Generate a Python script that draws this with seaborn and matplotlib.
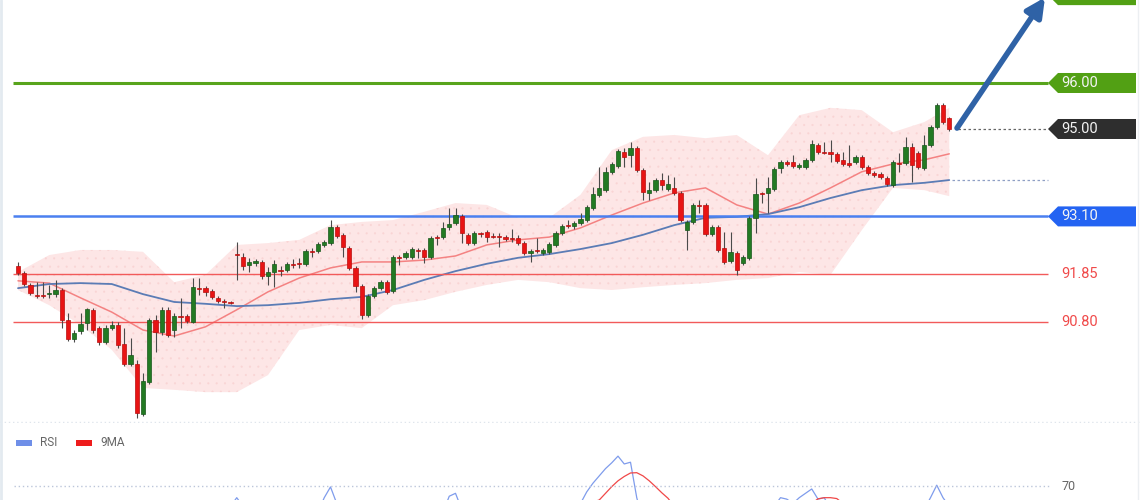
import numpy as np
import pandas as pd
import matplotlib
matplotlib.use("Agg")
import matplotlib.pyplot as plt
import seaborn as sns
from matplotlib.patches import Polygon, Rectangle

# candles (price units)
opens = [92.02, 91.87, 91.61, 91.39, 91.39, 91.41, 91.41, 91.50, 90.85, 90.43,
         90.61, 90.78, 91.07, 90.67, 90.37, 90.67, 90.74, 90.33, 89.89, 89.89,
         88.80, 89.50, 90.85, 90.59, 91.07, 90.63, 90.93, 90.93, 90.80, 91.54,
         91.54, 91.48, 91.33, 91.26, 91.24, 92.28, 92.22, 92.04, 92.09, 92.11,
         91.80, 91.89, 91.93, 91.93, 92.07, 92.09, 92.07, 92.35, 92.35, 92.48,
         92.52, 92.87, 92.70, 92.41, 91.98, 91.59, 90.96, 91.37, 91.54, 91.67,
         91.48, 92.22, 92.22, 92.22, 92.37, 92.37, 92.22, 92.65, 92.65, 92.87,
         92.96, 93.11, 92.70, 92.52, 92.74, 92.76, 92.67, 92.67, 92.65, 92.63,
         92.63, 92.52, 92.30, 92.37, 92.30, 92.33, 92.48, 92.74, 92.91, 92.89,
         92.96, 93.02, 93.28, 93.56, 93.67, 94.07, 94.20, 94.50, 94.43, 94.59,
         94.11, 93.61, 93.67, 93.89, 93.69, 93.72, 93.61, 92.80, 92.98, 93.35,
         93.35, 92.72, 92.87, 92.41, 92.13, 92.30, 92.09, 92.20, 93.07, 93.61,
         93.61, 93.69, 94.15, 94.28, 94.28, 94.17, 94.17, 94.33, 94.65, 94.50,
         94.50, 94.46, 94.33, 94.26, 94.28, 94.39, 94.17, 94.04, 94.02, 93.93,
         93.78, 94.26, 94.26, 94.61, 94.48, 94.15, 94.65, 95.04, 95.52, 95.24]
highs = [92.11, 91.91, 91.65, 91.67, 91.67, 91.61, 91.72, 91.54, 91.00, 90.63,
         91.00, 91.11, 91.11, 90.72, 90.74, 90.83, 90.80, 90.67, 90.46, 89.98,
         89.70, 90.89, 90.96, 91.13, 91.13, 91.00, 91.33, 90.98, 91.76, 91.76,
         91.59, 91.52, 91.37, 91.30, 91.26, 92.54, 92.30, 92.20, 92.17, 92.15,
         92.00, 92.15, 92.02, 92.11, 92.17, 92.20, 92.39, 92.41, 92.54, 92.59,
         93.02, 92.91, 92.74, 92.46, 92.02, 91.63, 91.41, 91.59, 91.72, 91.72,
         92.26, 92.26, 92.35, 92.43, 92.41, 92.41, 92.67, 92.70, 92.98, 93.28,
         93.28, 93.15, 92.74, 92.78, 92.76, 92.80, 92.74, 92.74, 92.70, 92.83,
         92.70, 92.56, 92.39, 92.63, 92.41, 92.54, 92.78, 92.93, 93.02, 93.00,
         93.17, 93.35, 93.74, 94.17, 94.17, 94.28, 94.57, 94.59, 94.72, 94.63,
         94.15, 93.85, 93.93, 94.04, 94.00, 93.96, 93.65, 93.02, 93.39, 93.46,
         93.39, 92.91, 92.91, 92.76, 92.76, 92.35, 92.26, 93.11, 93.93, 93.63,
         93.96, 94.17, 94.33, 94.33, 94.43, 94.26, 94.37, 94.76, 94.70, 94.72,
         94.76, 94.50, 94.50, 94.65, 94.43, 94.43, 94.22, 94.09, 94.07, 93.98,
         94.33, 94.48, 94.83, 94.70, 94.52, 94.87, 95.09, 95.57, 95.57, 95.26]
lows = [91.83, 91.59, 91.39, 91.33, 91.33, 91.33, 91.35, 90.67, 90.39, 90.37,
        90.54, 90.63, 90.57, 90.30, 90.33, 90.63, 90.24, 89.85, 89.85, 88.72,
        88.76, 89.46, 90.15, 90.52, 90.48, 90.48, 90.67, 90.78, 90.78, 91.39,
        91.37, 91.30, 91.22, 91.11, 91.20, 91.72, 91.93, 91.89, 92.02, 91.74,
        91.61, 91.56, 91.80, 91.89, 91.98, 91.98, 92.02, 92.22, 92.30, 92.43,
        92.48, 92.63, 92.22, 91.93, 91.46, 90.87, 90.91, 91.33, 91.50, 91.41,
        91.43, 92.04, 92.17, 92.17, 92.20, 92.09, 92.17, 92.48, 92.61, 92.80,
        92.91, 92.52, 92.48, 92.48, 92.65, 92.54, 92.63, 92.43, 92.56, 92.54,
        92.48, 92.26, 92.11, 92.30, 92.26, 92.28, 92.43, 92.70, 92.85, 92.83,
        92.91, 92.98, 93.24, 93.52, 93.63, 94.02, 94.15, 94.17, 94.17, 94.07,
        93.46, 93.46, 93.63, 93.67, 93.65, 93.56, 92.98, 92.37, 92.93, 93.17,
        92.67, 92.67, 92.33, 92.07, 92.09, 91.83, 92.04, 92.15, 92.74, 93.39,
        93.17, 93.65, 94.04, 94.20, 94.15, 94.13, 94.13, 94.28, 94.46, 94.46,
        94.28, 94.26, 94.20, 94.17, 94.24, 94.13, 94.00, 93.96, 93.91, 93.76,
        93.74, 94.07, 94.22, 93.85, 94.13, 94.11, 94.61, 95.00, 95.11, 94.96]
closes = [91.87, 91.63, 91.43, 91.37, 91.37, 91.43, 91.50, 90.85, 90.43, 90.57,
          90.76, 91.09, 90.63, 90.37, 90.67, 90.74, 90.30, 89.89, 90.09, 88.83,
          89.52, 90.85, 90.59, 91.07, 90.52, 90.93, 90.91, 90.83, 91.56, 91.52,
          91.46, 91.35, 91.26, 91.24, 91.22, 92.26, 92.02, 92.11, 92.13, 91.80,
          91.89, 92.07, 91.91, 92.07, 92.04, 92.07, 92.35, 92.33, 92.50, 92.54,
          92.87, 92.67, 92.43, 91.98, 91.59, 90.96, 91.37, 91.54, 91.67, 91.46,
          92.22, 92.20, 92.30, 92.39, 92.35, 92.22, 92.63, 92.63, 92.85, 92.93,
          93.13, 92.74, 92.52, 92.74, 92.72, 92.65, 92.65, 92.65, 92.61, 92.61,
          92.52, 92.30, 92.35, 92.35, 92.37, 92.50, 92.74, 92.89, 92.89, 92.96,
          93.04, 93.30, 93.59, 93.72, 94.07, 94.24, 94.52, 94.39, 94.59, 94.11,
          93.63, 93.67, 93.89, 93.78, 93.80, 93.61, 93.02, 92.98, 93.35, 93.33,
          92.72, 92.87, 92.37, 92.11, 92.33, 91.93, 92.22, 93.07, 93.59, 93.59,
          93.72, 94.13, 94.28, 94.24, 94.20, 94.22, 94.33, 94.67, 94.50, 94.48,
          94.46, 94.30, 94.24, 94.22, 94.39, 94.17, 94.04, 94.00, 93.96, 93.80,
          94.28, 94.24, 94.61, 94.22, 94.17, 94.65, 95.04, 95.52, 95.15, 95.00]

# bollinger band and moving averages, read every 5 candles
band_idx = [0, 5, 10, 15, 20, 25, 30, 35, 40, 45, 50, 55, 60, 65, 70, 75,
            80, 85, 90, 95, 100, 105, 110, 115, 120, 125, 130, 135, 140, 145, 149]
upper_band = [91.89, 92.26, 92.37, 92.37, 92.33, 91.67, 91.83, 92.48, 92.52, 92.59,
              92.91, 92.98, 93.02, 93.20, 93.39, 93.35, 93.07, 93.07, 93.57, 94.54,
              94.83, 94.87, 94.80, 94.87, 94.43, 95.30, 95.46, 95.41, 94.93, 95.15, 95.46]
lower_band = [91.50, 91.17, 90.74, 90.20, 89.37, 89.33, 89.28, 89.28, 89.65, 90.63,
              90.74, 90.67, 91.17, 91.28, 91.46, 91.61, 91.72, 91.67, 91.54, 91.50,
              91.56, 91.61, 91.65, 91.72, 91.76, 91.89, 91.83, 92.80, 93.72, 93.67, 93.54]
mid_band = [91.70, 91.65, 91.33, 91.02, 90.63, 90.50, 90.70, 91.07, 91.46, 91.76,
            91.98, 92.11, 92.11, 92.15, 92.24, 92.48, 92.59, 92.65, 92.85, 93.13,
            93.39, 93.61, 93.72, 93.35, 93.15, 93.39, 93.72, 94.07, 94.24, 94.33, 94.46]
slow_ma = [91.54, 91.63, 91.65, 91.63, 91.41, 91.24, 91.20, 91.15, 91.17, 91.22,
           91.30, 91.35, 91.50, 91.72, 91.91, 92.07, 92.20, 92.28, 92.39, 92.52,
           92.70, 92.91, 93.07, 93.09, 93.15, 93.30, 93.50, 93.67, 93.78, 93.83, 93.89]

# RSI panel (only the part above ~65 is in view)
rsi_idx = [0, 10, 20, 30, 33, 35, 37, 42, 48, 49, 50, 51, 52, 60, 68, 69, 70, 71, 72, 80,
           89, 90, 91, 92, 93, 94, 95, 96, 97, 98, 99, 100, 105, 115, 121, 122, 123, 124, 125, 126,
           127, 128, 129, 130, 140, 145, 146, 147, 148, 149]
rsi_val = [50, 45, 40, 55, 60, 66, 60, 58, 61, 66, 69.7, 64, 58, 60, 61, 66.5, 67.5, 62, 57, 55,
           60, 64, 68, 71, 73.5, 76, 78, 80.3, 77.6, 78.2, 66, 58, 45, 50, 63, 66, 65.5, 64, 66, 67.5,
           69, 65.5, 66, 62, 55, 62, 66, 70.3, 66, 63]
ma9_idx = [0, 30, 60, 85, 93, 94, 95, 96, 97, 98, 99, 100, 101, 102, 103, 104, 105, 115,
           126, 127, 128, 129, 130, 131, 132, 140, 149]
ma9_val = [48, 52, 57, 60, 65.2, 67.5, 69.8, 71.8, 73.3, 74.5, 74.6, 73.5, 71.8, 69.8, 67.7, 65.8, 63, 55,
           62, 64, 65.6, 66, 66, 65.7, 64, 60, 64]

# horizontal levels
levels = [96.00, 93.10, 91.85, 90.80]
level_colors = ["#58a41c", "#4b80f0", "#f25a5a", "#f25a5a"]
level_widths = [2.2, 1.8, 1.0, 1.0]
last_price = 95.00

sns.set_theme(style="white")
plt.rcParams['font.family'] = ['Roboto', 'DejaVu Sans']
plt.rcParams['hatch.linewidth'] = 0.3

fig = plt.figure(figsize=(11.4, 5.0), dpi=100)
ax = fig.add_axes([0, 77 / 500, 1, 423 / 500])
rsi_ax = fig.add_axes([0, 0, 1, 77 / 500])

X0, STEP = 18, 6.25      # pixel of first candle, pixels between candles
def px(xp):
    return (xp - X0) / STEP

H = 10 / 46              # half height of price tags (46 px per 1.00)

xlim = (px(0), px(1140))
ax.set_xlim(*xlim)
ax.set_ylim(88.609, 97.804)
rsi_ax.set_xlim(*xlim)
rsi_ax.set_ylim(65.2, 91.7)

# band
ax.fill_between(band_idx, lower_band, upper_band, facecolor="#fde6e6",
                edgecolor="#f9d4d4", hatch="..", linewidth=0, zorder=1)
sns.lineplot(x=band_idx, y=mid_band, ax=ax, color="#f48282", lw=1.1, zorder=2)
sns.lineplot(x=band_idx, y=slow_ma, ax=ax, color="#5b7cb5", lw=1.3, zorder=2)

# levels
for lv, c, w in zip(levels, level_colors, level_widths):
    ax.hlines(lv, px(13), px(1048), colors=c, lw=w, zorder=3)
ax.hlines(last_price, px(958), px(1048), colors="#666666", lw=0.9,
          linestyles=(0, (2, 2)), zorder=3)
ax.hlines(slow_ma[-1], px(952), px(1048), colors="#8f9fc4", lw=0.9,
          linestyles=(0, (2, 2)), zorder=3)

# candles
df = pd.DataFrame({"o": opens, "h": highs, "l": lows, "c": closes})
df["i"] = np.arange(len(df))
up = df["c"] >= df["o"]
body_col = np.where(up, "#237a23", "#e81414")
edge_col = np.where(up, "#17561a", "#b80e0e")
ax.vlines(df["i"], df["l"], df["h"], colors="#4a4a4a", lw=0.8, zorder=4)
heights = (df["c"] - df["o"]).abs().clip(lower=0.025)
ax.bar(df["i"], heights, bottom=df[["o", "c"]].min(axis=1), width=0.68,
       color=body_col, edgecolor=edge_col, linewidth=0.5, zorder=5)

# price tags
def tag(price, text, color, text_color="#f4f4f4"):
    pts = [(px(1048), price), (px(1058), price + H), (px(1136), price + H),
           (px(1136), price - H), (px(1058), price - H)]
    ax.add_patch(Polygon(pts, closed=True, facecolor=color, edgecolor="none",
                         zorder=6, clip_on=False))
    if text:
        ax.text(px(1061), price, text, color=text_color, fontsize=10.5,
                va="center", ha="left", zorder=7)

tag(97.91, None, "#52a014")
tag(levels[0], "96.00", "#52a014")
tag(last_price, "95.00", "#2e2e2e")
tag(levels[1], "93.10", "#2363f2")
for lv in levels[2:]:
    ax.text(px(1061), lv, f"{lv:.2f}", color="#f04a4a", fontsize=10.5,
            va="center", ha="left", zorder=7)

# trend arrow
ax.annotate("", xy=(px(1045), 97.86), xytext=(px(957), 95.02),
            arrowprops=dict(arrowstyle="-|>", color="#2f62a6", lw=4,
                            mutation_scale=28, shrinkA=0, shrinkB=0),
            zorder=8, annotation_clip=False)

ax.axhline(88.63, color="#dfe5ec", lw=1, ls=(0, (1, 2)))
for a in (ax, rsi_ax):
    a.axvline(px(1.5), color="#e3eaf0", lw=2)
    a.axvline(px(1137.5), color="#eceff2", lw=1)
    a.set_axis_off()

# RSI panel
sns.lineplot(x=rsi_idx, y=rsi_val, ax=rsi_ax, color="#7f9cec", lw=0.9)
sns.lineplot(x=ma9_idx, y=ma9_val, ax=rsi_ax, color="#f04848", lw=0.9)
rsi_ax.hlines(70, px(14), px(1050), colors="#bcc6da", lw=1, linestyles=(0, (1, 2)))
rsi_ax.text(px(1061), 70, "70", color="#666666", fontsize=9, va="center", ha="left")

fig.patches.append(Rectangle((16 / 1140, 54 / 500), 16 / 1140, 6 / 500,
                             transform=fig.transFigure, facecolor="#6f8fe8", edgecolor="none"))
fig.patches.append(Rectangle((76 / 1140, 54 / 500), 16 / 1140, 6 / 500,
                             transform=fig.transFigure, facecolor="#ee1c1c", edgecolor="none"))
fig.text(40 / 1140, 57 / 500, "RSI", color="#666666", fontsize=8.5, va="center")
fig.text(100 / 1140, 57 / 500, "9MA", color="#666666", fontsize=8.5, va="center")

fig.savefig("out.png", dpi=100)
